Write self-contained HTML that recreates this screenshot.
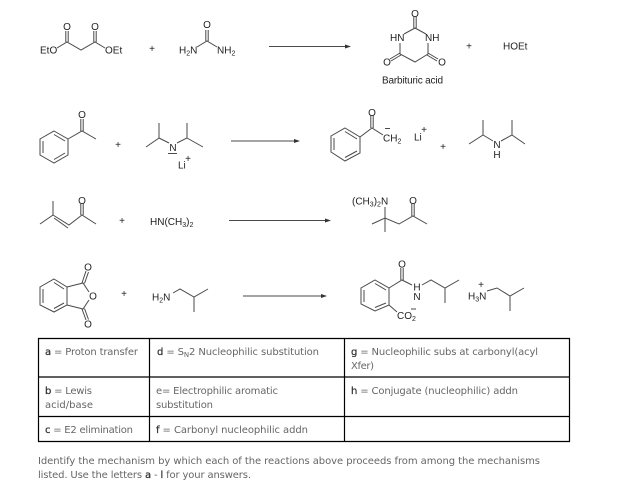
<!DOCTYPE html>
<html>
<head>
<meta charset="utf-8">
<style>
html,body{margin:0;padding:0;background:#fff;}
svg{display:block;filter:blur(.3px);}
.b{fill:none;stroke:#4a4a4a;stroke-width:1;}
.k{fill:none;stroke:#000;stroke-width:1.2;}
.c{font-family:"Liberation Sans",sans-serif;font-size:10px;fill:#222;}
.m{text-anchor:middle;}
.t{font-family:"DejaVu Sans","Liberation Sans",sans-serif;font-size:10px;fill:#666;}
.t tspan.h{fill:#333;stroke:#333;stroke-width:.25;}
</style>
</head>
<body>
<svg width="636" height="487" viewBox="0 0 636 487" xmlns="http://www.w3.org/2000/svg">
<rect width="636" height="487" fill="#fff"/>

<!-- Row 1 -->
<path class="b" d="M57 48L67 42L81 50L95 42L105 48M65.800 31V42M68.200 31V42M93.800 31V42M96.200 31V42"/>
<text class="c" x="40" y="53.500">EtO</text>
<text class="c m" x="67" y="30">O</text>
<text class="c m" x="95" y="30">O</text>
<text class="c" x="105" y="53.500">OEt</text>
<text class="c m" x="152" y="52">+</text>
<path class="b" d="M197 47L207 41L217 47M205.800 30V41M208.200 30V41"/>
<text class="c m" x="207" y="28">O</text>
<text class="c" x="179" y="53.500">H<tspan font-size="7" dy="2">2</tspan><tspan dy="-2">N</tspan></text>
<text class="c" x="217" y="53.500">NH<tspan font-size="7" dy="2">2</tspan></text>
<path class="b" d="M269 46.500H346"/><path d="M345 44.500L351 46.500L345 48.500Z" fill="#333"/>
<path class="b" d="M404 34L415 28L426 34M400 43V54L415 62L428 54V43M413.800 17V28M416.200 17V28M400 53L390 59M401 55L391 61M428 53L438 59M427 55L437 61"/>
<text class="c m" x="415" y="17">O</text>
<text class="c" x="390" y="41">HN</text>
<text class="c" x="425" y="41">NH</text>
<text class="c m" x="387" y="65.500">O</text>
<text class="c m" x="442" y="65.500">O</text>
<text class="c" x="382" y="83.500" textLength="61">Barbituric acid</text>
<text class="c m" x="469" y="49.500">+</text>
<text class="c" x="503" y="49.500">HOEt</text>

<!-- Row 2 -->
<path class="b" d="M54 131L68 139V155L54 163L40 155V139ZM54 134.500L65 141M65 153L54 159.500M43 153V141M68 139L82 131L96 139M80.800 119V131M83.200 119V131"/>
<text class="c m" x="82" y="118">O</text>
<text class="c m" x="118" y="148">+</text>
<path class="b" d="M146 147L159 138V123M159 138L169 143M177 143L187 138V123M187 138L203 147"/>
<text class="c m" x="173" y="151">N</text>
<path class="b" d="M168 153.500H177"/>
<text class="c" x="178" y="168.500">Li</text>
<text class="c m" x="188" y="162">+</text>
<path class="b" d="M231 141H295"/><path d="M294 139L300 141L294 143Z" fill="#333"/>

<path class="b" d="M345 128L360 137V153L345 161L331 152V136ZM345 131.500L357 139M357 151L345 157.500M334 150V138M360 137L372 128L383 135M370.800 116V128M373.200 116V128"/>
<text class="c m" x="372" y="116">O</text>
<text class="c" x="383" y="141.500">CH<tspan font-size="7" dy="2">2</tspan></text>
<path class="b" d="M385 128.500H390"/>
<text class="c" x="414" y="140.500">Li</text>
<text class="c m" x="424" y="133">+</text>
<text class="c m" x="443" y="150">+</text>
<path class="b" d="M469 144L483 135V120M483 135L493 141M501 141L512 135V120M512 135L525 144"/>
<text class="c m" x="497" y="148">N</text>
<text class="c m" x="497" y="158">H</text>

<!-- Row 3 -->
<path class="b" d="M40 224L53 215V201M53 215L69 225L82 215L96 224M54 218L68 228M80.800 204V215M83.200 204V215"/>
<text class="c m" x="82" y="204">O</text>
<text class="c m" x="122" y="224">+</text>
<text class="c" x="150" y="225">HN(CH<tspan font-size="7" dy="2">3</tspan><tspan dy="-2">)</tspan><tspan font-size="7" dy="2">2</tspan></text>
<path class="b" d="M229 220.500H326"/><path d="M325 218.500L331 220.500L325 222.500Z" fill="#333"/>
<text class="c" x="352" y="204.500">(CH<tspan font-size="7" dy="2">3</tspan><tspan dy="-2">)</tspan><tspan font-size="7" dy="2">2</tspan><tspan dy="-2">N</tspan></text>
<path class="b" d="M385 207V232M372 224L385 218L399 224L413 216L427 224M411.800 204V216M414.200 204V216"/>
<text class="c m" x="413" y="204">O</text>

<!-- Row 4 -->
<path class="b" d="M54 279L67 287V305L54 312L40 305V287ZM54 282.500L64 289M64 303L54 308.500M43 303V289M67 287L83 283L89 292M67 305L83 309L89 300M82 283L86 271M84.500 283.500L88.500 272M82 309L86 320M84.500 308.500L88.500 319.500"/>
<text class="c m" x="88" y="270.500">O</text>
<text class="c m" x="93" y="299.500">O</text>
<text class="c m" x="88" y="327.500">O</text>
<text class="c m" x="124" y="297">+</text>
<text class="c" x="152" y="300.500">H<tspan font-size="7" dy="2">2</tspan><tspan dy="-2">N</tspan></text>
<path class="b" d="M173 293L180 289L194 297L208 289M194 297V312"/>
<path class="b" d="M243 296H322"/><path d="M321 294L327 296L321 298Z" fill="#333"/>

<path class="b" d="M375 280L389 288V305L375 311L361 304V288ZM375 283.500L386 290M386 303L375 307.500M364 302V290M389 288L402 280L412 285M400.800 268V280M403.200 268V280M422 285L431 280L445 288L459 280M445 288V303M389 305L397 312"/>
<text class="c m" x="402" y="267.500">O</text>
<text class="c m" x="417" y="290.500">H</text>
<text class="c m" x="417" y="300">N</text>
<text class="c" x="397" y="319">CO<tspan font-size="7" dy="2">2</tspan></text>
<path class="b" d="M411 309H416"/>
<text class="c" x="468" y="299.500">H<tspan font-size="7" dy="2">3</tspan><tspan dy="-2">N</tspan></text>
<text class="c m" x="481" y="288">+</text>
<path class="b" d="M487 291L497 288L510 296L524 288M510 296V311"/>

<!-- Table -->
<path class="k" d="M38.500 338.500H569.500V441.500H38.500ZM38.500 377H569.500M38.500 416.500H569.500M149.500 338.500V441.500M344.500 338.500V441.500"/>
<text class="t" x="45" y="355" textLength="93"><tspan class="h">a</tspan> = Proton transfer</text>
<text class="t" x="157" y="355" textLength="162"><tspan class="h">d</tspan> = S<tspan font-size="7" dy="2">N</tspan><tspan dy="-2">2 Nucleophilic substitution</tspan></text>
<text class="t" x="351" y="355" textLength="187"><tspan class="h">g</tspan> = Nucleophilic subs at carbonyl(acyl</text>
<text class="t" x="351" y="369" textLength="23">Xfer)</text>
<text class="t" x="45" y="394" textLength="47"><tspan class="h">b</tspan> = Lewis</text>
<text class="t" x="45" y="408" textLength="48">acid/base</text>
<text class="t" x="156" y="394" textLength="122">e= Electrophilic aromatic</text>
<text class="t" x="156" y="408" textLength="57">substitution</text>
<text class="t" x="351" y="394" textLength="167"><tspan class="h">h</tspan> = Conjugate (nucleophilic) addn</text>
<text class="t" x="45" y="433" textLength="88"><tspan class="h">c</tspan> = E2 elimination</text>
<text class="t" x="156" y="433" textLength="152"><tspan class="h">f</tspan> = Carbonyl nucleophilic addn</text>

<!-- Footer -->
<text class="t" x="38" y="464" textLength="502">Identify the mechanism by which each of the reactions above proceeds from among the mechanisms</text>
<text class="t" x="38" y="478" textLength="213">listed. Use the letters <tspan class="h">a</tspan> - <tspan class="h">l</tspan> for your answers.</text>
</svg>
</body>
</html>
